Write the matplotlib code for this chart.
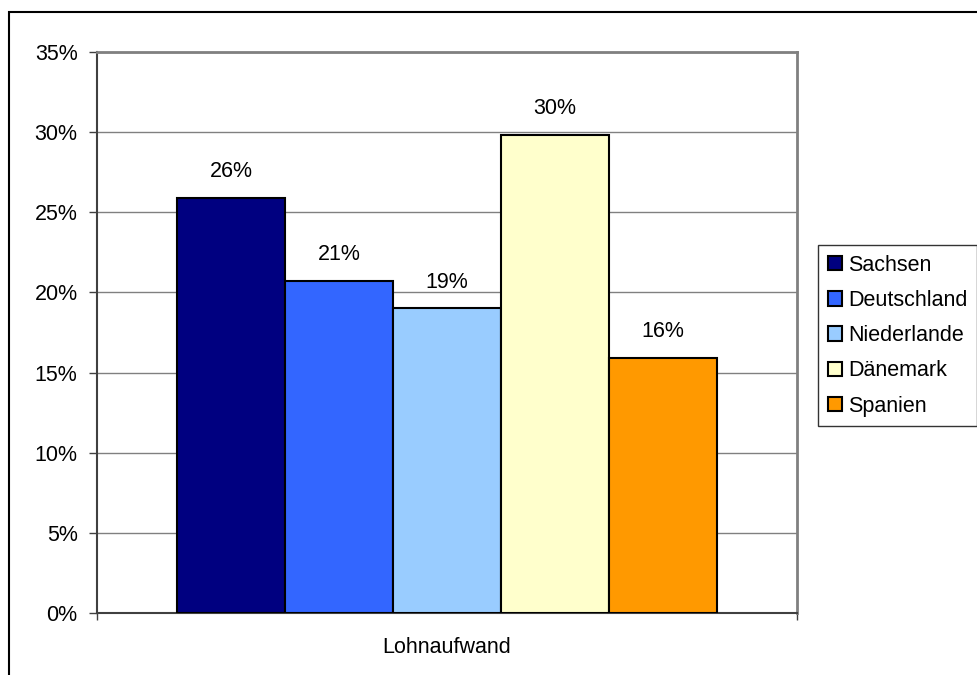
import matplotlib
matplotlib.use('Agg')
from matplotlib import pyplot as plt
from matplotlib.patches import Rectangle

plt.rcParams['font.family'] = ['Liberation Sans', 'DejaVu Sans']

# data
category = 'Lohnaufwand'
countries = ['Sachsen', 'Deutschland', 'Niederlande', 'Dänemark', 'Spanien']
values = [25.9, 20.7, 19.0, 29.8, 15.9]
labels = ['26%', '21%', '19%', '30%', '16%']
colors = ['#000080', '#3366FF', '#99CCFF', '#FFFFCC', '#FF9900']
yticks = [0, 5, 10, 15, 20, 25, 30, 35]

fs = 15.5
fig = plt.figure(figsize=(9.78, 6.75), dpi=100)
ax = fig.add_axes([97/978, 62/675, 700/978, 561/675])

# outer chart border (runs off the right and bottom edges)
fig.patches.append(Rectangle((9/978, -0.05), 1.2, 1 - 12/675 + 0.05,
                             transform=fig.transFigure, fill=False,
                             edgecolor='black', linewidth=1.5, zorder=0))

w = 108/700
n = len(countries)
for i, (c, v, lab, col) in enumerate(zip(countries, values, labels, colors)):
    x = (i - (n - 1) / 2) * w
    ax.bar(x, v, width=w, color=col, edgecolor='black', linewidth=1.5,
           label=c, zorder=3)
    ax.annotate(lab, (x, v), xytext=(0, 19), textcoords='offset points',
                ha='center', va='center', fontsize=fs)

ax.set_xlim(-0.5, 0.5)
ax.set_ylim(0, 35)
ax.set_yticks(yticks)
ax.set_yticklabels([f'{t}%' for t in yticks], fontsize=fs)
ax.yaxis.grid(True, color='#808080', linewidth=1)
ax.set_axisbelow(True)
ax.tick_params(axis='y', length=6, width=1, color='#404040', pad=8)

ax.set_xticks([0])
ax.set_xticklabels([category], fontsize=fs)
ax.set_xticks([-0.5, 0.5], minor=True)
ax.tick_params(axis='x', which='major', length=0, pad=17)
ax.tick_params(axis='x', which='minor', length=5, width=1, color='#404040')

for s in ['top', 'right']:
    ax.spines[s].set_color('#808080')
    ax.spines[s].set_linewidth(2)
for s in ['left', 'bottom']:
    ax.spines[s].set_color('#404040')
    ax.spines[s].set_linewidth(1.5)

leg = fig.legend(loc='upper left', bbox_to_anchor=(818/978, 1 - 245/675),
                 fontsize=fs, frameon=True, fancybox=False, borderaxespad=0,
                 handlelength=0.65, handleheight=0.65, handletextpad=0.3,
                 labelspacing=0.66, borderpad=0.45)
leg.get_frame().set_edgecolor('black')
leg.get_frame().set_linewidth(1)

plt.savefig('out.png', dpi=100)
